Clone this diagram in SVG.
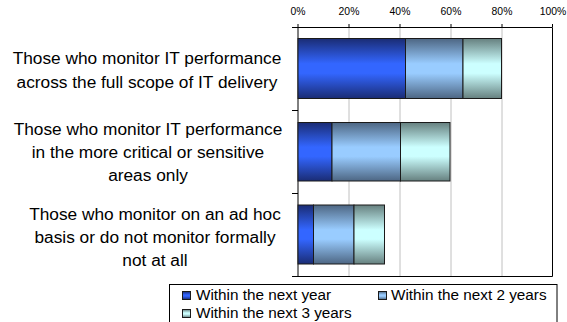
<svg xmlns="http://www.w3.org/2000/svg" width="567" height="322" viewBox="0 0 567 322">
<defs>
<linearGradient id="gBlue" x1="0" y1="0" x2="0" y2="1">
<stop offset="0" stop-color="#1a2c74"/><stop offset="0.42" stop-color="#3366ff"/><stop offset="0.58" stop-color="#3366ff"/><stop offset="1" stop-color="#1a2c74"/>
</linearGradient>
<linearGradient id="gLight" x1="0" y1="0" x2="0" y2="1">
<stop offset="0" stop-color="#4d6683"/><stop offset="0.42" stop-color="#99ccff"/><stop offset="0.58" stop-color="#99ccff"/><stop offset="1" stop-color="#4d6683"/>
</linearGradient>
<linearGradient id="gCyan" x1="0" y1="0" x2="0" y2="1">
<stop offset="0" stop-color="#66807f"/><stop offset="0.42" stop-color="#ccffff"/><stop offset="0.58" stop-color="#ccffff"/><stop offset="1" stop-color="#66807f"/>
</linearGradient>
</defs>
<style>
text{font-family:"Liberation Sans",Arial,sans-serif;fill:#000}
.cat{font-size:17.3px;text-anchor:middle}
.tick{font-size:10.4px;text-anchor:middle}
.leg{font-size:15.3px}
.grid{stroke:#c0c0c0;stroke-width:1}
.axis{stroke:#000;stroke-width:1;fill:none}
.bar{stroke:#1a1a1a;stroke-width:1}
</style>
<rect width="567" height="322" fill="#fff"/>
<g id="gridlines">
<line class="grid" x1="349" y1="27" x2="349" y2="277"/>
<line class="grid" x1="400" y1="27" x2="400" y2="277"/>
<line class="grid" x1="451" y1="27" x2="451" y2="277"/>
<line class="grid" x1="502" y1="27" x2="502" y2="277"/>
</g>
<g id="axes">
<path class="axis" d="M292,27.5H552.5V276.5H298"/>
<line class="axis" x1="298" y1="27" x2="298" y2="277"/>
<path class="axis" d="M292,110.5H298M292,193.5H298M292,276.5H298"/>
<path class="axis" d="M298,24V27M349,24V27M400,24V27M451,24V27M502,24V27M552.5,24V27"/>
<text class="tick" x="298" y="15">0%</text>
<text class="tick" x="349" y="15">20%</text>
<text class="tick" x="400" y="15">40%</text>
<text class="tick" x="451" y="15">60%</text>
<text class="tick" x="502" y="15">80%</text>
<text class="tick" x="553" y="15">100%</text>
</g>
<g id="cat1">
<text class="cat" x="147" y="64">Those who monitor IT performance</text>
<text class="cat" x="147" y="88">across the full scope of IT delivery</text>
<rect class="bar" x="298" y="38.5" width="107.5" height="60" fill="url(#gBlue)"/>
<rect class="bar" x="405.5" y="38.5" width="57.5" height="60" fill="url(#gLight)"/>
<rect class="bar" x="463" y="38.5" width="38.5" height="60" fill="url(#gCyan)"/>
</g>
<g id="cat2">
<text class="cat" x="148" y="134.5">Those who monitor IT performance</text>
<text class="cat" x="148" y="157.5">in the more critical or sensitive</text>
<text class="cat" x="148" y="180.5">areas only</text>
<rect class="bar" x="298" y="122.5" width="34" height="58.5" fill="url(#gBlue)"/>
<rect class="bar" x="332" y="122.5" width="68.5" height="58.5" fill="url(#gLight)"/>
<rect class="bar" x="400.5" y="122.5" width="49.5" height="58.5" fill="url(#gCyan)"/>
</g>
<g id="cat3">
<text class="cat" x="155" y="219.5">Those who monitor on an ad hoc</text>
<text class="cat" x="155" y="243">basis or do not monitor formally</text>
<text class="cat" x="155" y="266">not at all</text>
<rect class="bar" x="298" y="205" width="15.5" height="59" fill="url(#gBlue)"/>
<rect class="bar" x="313.5" y="205" width="40.5" height="59" fill="url(#gLight)"/>
<rect class="bar" x="354" y="205" width="30.5" height="59" fill="url(#gCyan)"/>
</g>
<g id="legend">
<rect x="169.5" y="284.5" width="387.5" height="50" fill="#fff" stroke="#000" stroke-width="1"/>
<rect class="bar" x="182.5" y="291.5" width="8" height="8" fill="url(#gBlue)"/>
<text class="leg" x="196" y="299.5">Within the next year</text>
<rect class="bar" x="378.5" y="291.5" width="8" height="8" fill="url(#gLight)"/>
<text class="leg" x="391" y="299.5">Within the next 2 years</text>
<rect class="bar" x="182.5" y="309.5" width="8" height="8" fill="url(#gCyan)"/>
<text class="leg" x="196" y="317.5">Within the next 3 years</text>
</g>
</svg>
